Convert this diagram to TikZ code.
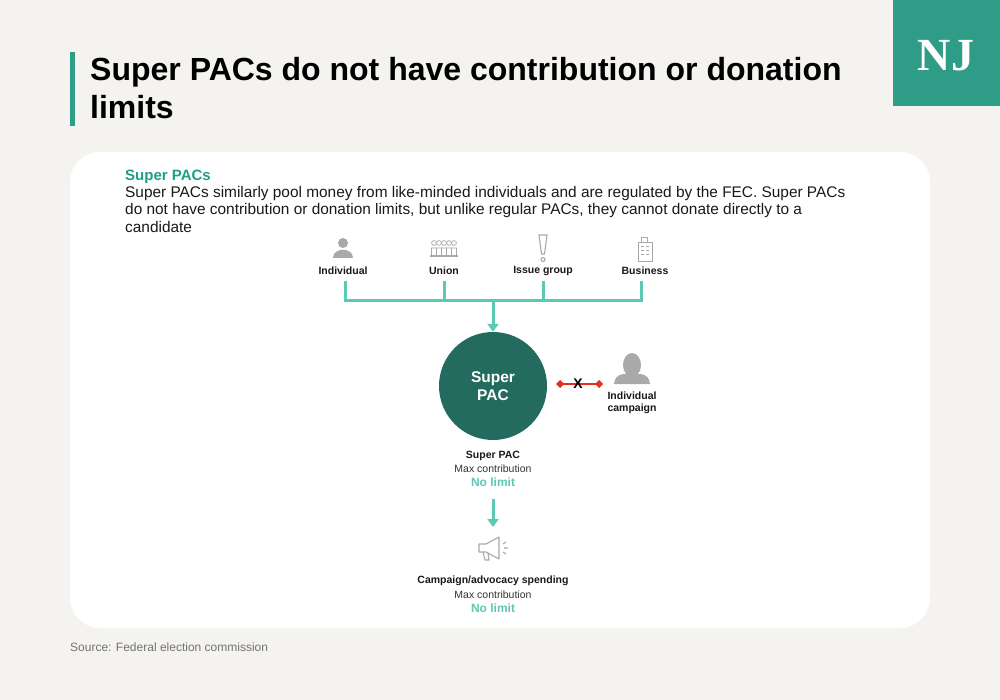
\documentclass[tikz,border=0pt]{standalone}
\usepackage{fontspec}
\setmainfont{Liberation Sans}
\newfontfamily\njfont{Liberation Serif}
\usetikzlibrary{arrows.meta}
\definecolor{bg}{HTML}{F4F3EF}
\definecolor{nj}{HTML}{2E9C86}
\definecolor{pac}{HTML}{236B5E}
\definecolor{teal}{HTML}{5CC9B5}
\definecolor{ttl}{HTML}{1FA085}
\definecolor{ic}{HTML}{A9A9A9}
\definecolor{redx}{HTML}{E0321C}
\tikzset{
 lbl/.style={font=\fontsize{10.5}{12}\selectfont\bfseries, text=black!90, align=center, inner sep=0},
 sub/.style={font=\fontsize{10.5}{12}\selectfont, text=black!80, inner sep=0},
 nol/.style={font=\fontsize{12}{13}\selectfont\bfseries, text=teal, inner sep=0},
 flow/.style={draw=teal, line width=3pt},
 icon/.style={draw=ic, line width=1.1pt}
}
\begin{document}
\begin{tikzpicture}[x=1pt,y=-1pt]
\fill[bg] (0,0) rectangle (1000,700);
\useasboundingbox (0,0) rectangle (1000,700);
\fill[nj] (893,0) rectangle (1000,106);
\node[text=white, font=\njfont\fontsize{46}{48}\selectfont\bfseries] (nj) at (946,56) {NJ};
\fill[nj] (70,52) rectangle (75,126);
\node[anchor=north west, align=left, font=\fontsize{32}{38}\selectfont\bfseries, inner sep=0] (title) at (90,57) {Super PACs do not have contribution or donation\\limits};
\fill[white, rounded corners=30pt] (70,152) rectangle (930,628);
\node[anchor=north west, font=\fontsize{15}{16}\selectfont\bfseries, text=ttl, inner sep=0] (h) at (125,170) {Super PACs};
\node[anchor=north west, align=left, font=\fontsize{15.4}{17.5}\selectfont, inner sep=0, text=black!90] (desc) at (125,186) {Super PACs similarly pool money from like-minded individuals and are regulated by the FEC. Super PACs\\do not have contribution or donation limits, but unlike regular PACs, they cannot donate directly to a\\candidate};
% icons
\fill[ic] (343,243) circle (5);
\fill[ic] (333,258) .. controls (333,247) and (353,247) .. (353,258) -- cycle;
\foreach \dx in {-10,-5,0,5,10}{\draw[icon, line width=0.7pt] (444+\dx,243) circle (2.4) (441.5+\dx,255) -- (441.5+\dx,248) -- (446.5+\dx,248) -- (446.5+\dx,255);}
\draw[icon] (430,256) -- (458,256);
\draw[icon] (539,235) -- (547,235) -- (544.5,254) -- (541.5,254) -- cycle;
\draw[icon] (543,259.5) circle (2);
\draw[icon, line width=0.9pt] (638,242) rectangle (652,261) (641,237) rectangle (647,242);
\foreach \yy in {246,250,254}{\draw[ic, line width=0.7pt] (641,\yy) -- (644,\yy) (646,\yy) -- (649,\yy);}
\node[lbl] (ind) at (343,271) {Individual};
\node[lbl] (uni) at (444,271) {Union};
\node[lbl] (iss) at (543,271) {Issue group};
\node[lbl] (bus) at (645,271) {Business};
\coordinate (j) at (493,300);
\draw[flow] (345,281) -- (345,300) -- (641,300) -- (641,281);
\draw[flow] (444,281) -- (444,300) (543,281) -- (543,300);
\node[circle, fill=pac, minimum size=108pt, inner sep=0, text=white, align=center, font=\fontsize{15.5}{18}\selectfont\bfseries] (pac) at (493,386) {Super\\PAC};
\draw[flow, -{Triangle[length=8pt,width=11pt]}] (j) -- (pac.north);
% person
\fill[ic] (632,365) ellipse (9 and 12);
\fill[ic] (614,384) .. controls (615,373) and (625,373) .. (632,375) .. controls (639,373) and (649,373) .. (650,384) -- cycle;
\node[lbl, font=\fontsize{10.5}{12.5}\selectfont\bfseries] (camp) at (632,403) {Individual\\campaign};
\coordinate (ra) at (556,384);
\coordinate (rb) at (603,384);
\draw[redx, line width=2.3pt, {Diamond[length=8pt,width=8pt]}-{Diamond[length=8pt,width=8pt]}] (ra) -- (rb);
\node[font=\fontsize{14}{14}\selectfont\bfseries, inner sep=0] (x) at (578,384) {X};
\node[lbl] (s1) at (493,456) {Super PAC};
\node[sub] (s2) at (493,469) {Max contribution};
\node[nol] (s3) at (493,482) {No limit};
\node[lbl] (c1) at (493,581) {Campaign/advocacy spending};
\node[sub] (c2) at (493,595) {Max contribution};
\node[nol] (c3) at (493,608) {No limit};
\draw[flow, -{Triangle[length=8pt,width=11pt]}] (493,499) -- (493,527);
% megaphone
\draw[icon, line join=round] (479,544) -- (486,544) -- (499,537) -- (499,559) -- (486,552) -- (479,552) -- cycle;
\draw[icon] (483,552) -- (485,560) -- (489,560) -- (488,553);
\draw[icon] (503,544) -- (506,542) (504,548) -- (508,548) (503,552) -- (506,554);
\node[anchor=west, font=\fontsize{12}{13}\selectfont, text=black!55, inner sep=0] (src) at (70,647) {Source: Federal election commission};
\end{tikzpicture}
\end{document}
